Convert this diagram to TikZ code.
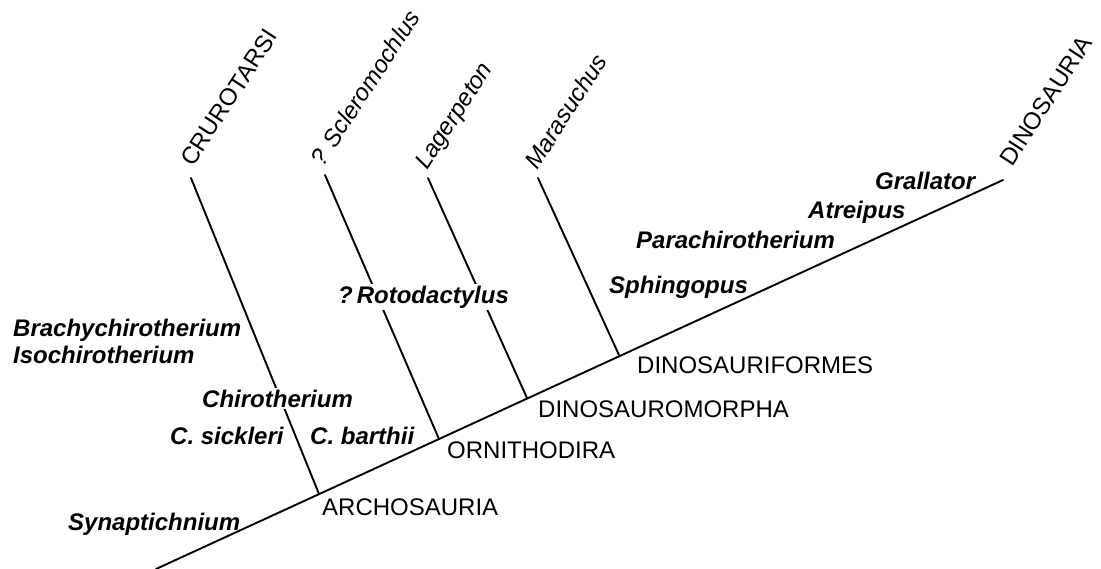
\documentclass[tikz,border=0pt]{standalone}
\usepackage{fontspec}
\setmainfont{Liberation Sans}
\begin{document}
\begin{tikzpicture}[x=1pt,y=-1pt,
  tree/.style={line width=1.9pt, line cap=round},
  trace/.style={font=\fontsize{24}{28}\selectfont\bfseries\itshape, anchor=base west, inner sep=0pt},
  tracefill/.style={trace, fill=white, inner xsep=0pt, inner ysep=2pt},
  clade/.style={font=\fontsize{24}{28}\selectfont, anchor=base west, inner sep=0pt},
  taxon/.style={font=\fontsize{24}{28}\selectfont\itshape, anchor=base west, inner sep=0pt, rotate=57},
  group/.style={font=\fontsize{24}{28}\selectfont, anchor=base west, inner sep=0pt, rotate=57}]
\useasboundingbox (0,0) rectangle (1101,568);
% main line and branch points
\coordinate (root) at (156,569);
\coordinate (arch) at (319,494);
\coordinate (orni) at (439,439);
\coordinate (dmor) at (527,398);
\coordinate (dfor) at (619,355);
\coordinate (dino) at (1003,180);
% branch tips
\coordinate (cruT) at (191,178);
\coordinate (sclT) at (325,175);
\coordinate (lagT) at (428,178);
\coordinate (marT) at (538,178);
\draw[tree] (root) -- (dino);
\draw[tree] (arch) -- (cruT);
\draw[tree] (orni) -- (sclT);
\draw[tree] (dmor) -- (lagT);
\draw[tree] (dfor) -- (marT);
% tip labels
\node[group] (lcru) at (193,168) {CRUROTARSI};
\node[taxon] (lscl) at (323,168) {? Scleromochlus};
\node[taxon] (llag) at (427,171) {Lagerpeton};
\node[taxon] (lmar) at (537,171) {Marasuchus};
\node[group] (ldino) at (1012,168) {DINOSAURIA};
% clade labels
\node[clade] (larch) at (322,515) {ARCHOSAURIA};
\node[clade] (lorni) at (447,458) {ORNITHODIRA};
\node[clade] (ldmor) at (538,417) {DINOSAUROMORPHA};
\node[clade] (ldfor) at (637,373) {DINOSAURIFORMES};
% ichnotaxa
\node[trace] (syn) at (68,530) {Synaptichnium};
\node[trace] (sick) at (170,444) {C. sickleri};
\node[trace] (bart) at (310,444) {C. barthii};
\node[tracefill] (chir) at (202,407) {Chirotherium};
\node[trace] (brach) at (13,336) {Brachychirotherium};
\node[trace] (iso) at (13,363) {Isochirotherium};
\node[tracefill] (roto) at (338,303) {?\,Rotodactylus};
\node[trace] (sphi) at (609,293) {Sphingopus};
\node[trace] (para) at (636,248) {Parachirotherium};
\node[trace] (atre) at (808,218) {Atreipus};
\node[trace] (gral) at (875,189) {Grallator};
\end{tikzpicture}
\end{document}
